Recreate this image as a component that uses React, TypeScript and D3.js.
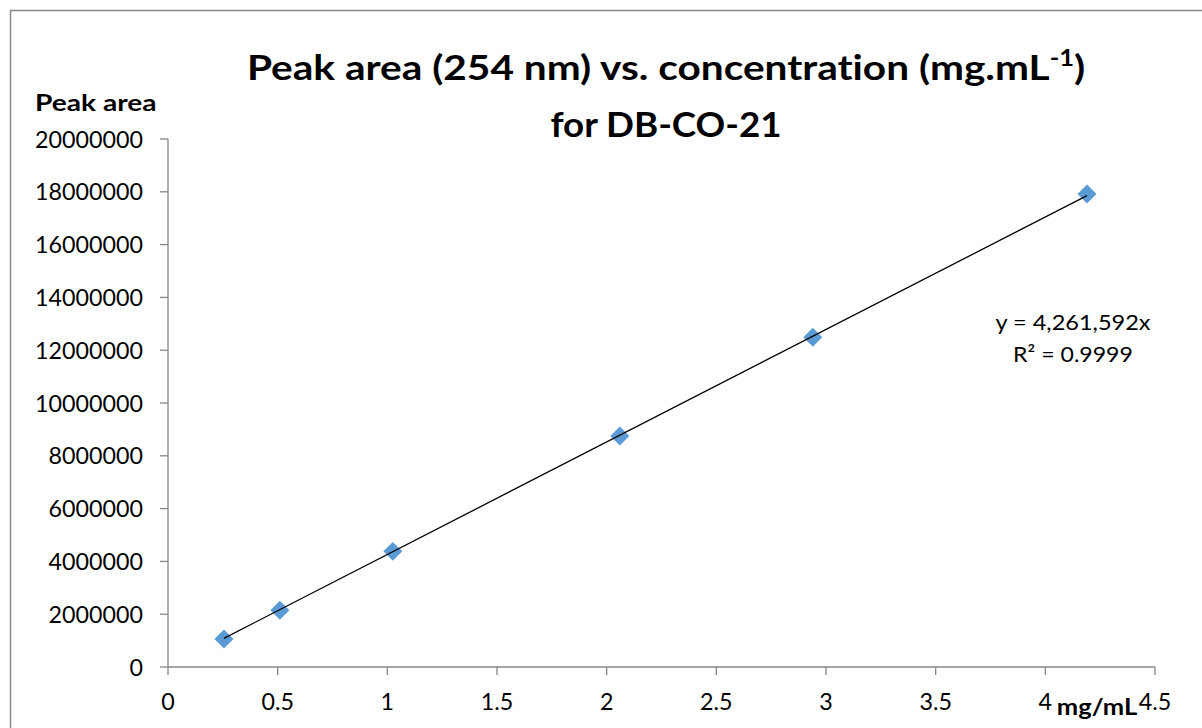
import React from "react";
import * as d3 from "d3";

const concentrations = [0.255, 0.51, 1.025, 2.06, 2.94, 4.19];
const peakAreas = [1060000, 2150000, 4380000, 8750000, 12490000, 17920000];
const slope = 4261592;
const xTicks = [0, 0.5, 1, 1.5, 2, 2.5, 3, 3.5, 4, 4.5];
const yTicks = [0, 2000000, 4000000, 6000000, 8000000, 10000000, 12000000, 14000000, 16000000, 18000000, 20000000];
const titleLine1 = "Peak area (254 nm) vs. concentration (mg.mL";
const titleSup = "-1";
const titleLine2 = "for DB-CO-21";
const yAxisTitle = "Peak area";
const xAxisTitle = "mg/mL";
const equation = "y = 4,261,592x";
const rSquared = "R² = 0.9999";

const W = 1202;
const H = 728;
const FONT = "Lato, 'Liberation Sans', sans-serif";

function SText(props: { x: number; y: number; sx: number; anchor?: string; size: number; bold?: boolean; children: React.ReactNode }) {
  const { x, y, sx, anchor, size, bold, children } = props;
  return (
    <text
      transform={`translate(${x},${y}) scale(${sx},1)`}
      textAnchor={anchor || "start"}
      fontSize={size}
      fontWeight={bold ? "bold" : "normal"}
      fill="#000"
      style={{ fontVariantLigatures: "none" }}
    >
      {children}
    </text>
  );
}

export default function App() {
  const x = d3.scaleLinear().domain([0, 4.5]).range([168, 1155]);
  const y = d3.scaleLinear().domain([0, 20000000]).range([667, 139]);
  const axisColor = "#868686";
  const pts = concentrations.map((c, i) => [c, peakAreas[i]] as [number, number]);
  const xmin = d3.min(concentrations) as number;
  const xmax = d3.max(concentrations) as number;
  const line = d3.line<[number, number]>().x(d => x(d[0])).y(d => y(d[1]));
  const trend: [number, number][] = [[xmin, slope * xmin], [xmax, slope * xmax]];
  const diamond = d3.symbol().type(d3.symbolSquare).size(180)();
  const tickSx = 0.97;

  return (
    <svg width={W} height={H} style={{ position: "absolute", left: 0, top: 0, background: "#fff" }} fontFamily={FONT}>
      <rect x={0} y={0} width={W} height={H} fill="#fff" />
      <rect x={10.5} y={10.5} width={W + 20} height={H + 20} fill="none" stroke="#8a8a8a" strokeWidth={1.5} />
      {/* title */}
      <SText x={666} y={80} sx={1.16} anchor="middle" size={35} bold>
        {titleLine1}
        <tspan fontSize={22} dy={-14}>{titleSup}</tspan>
        <tspan dy={14}>)</tspan>
      </SText>
      <SText x={666} y={137} sx={1.05} anchor="middle" size={35} bold>{titleLine2}</SText>
      {/* y axis */}
      <line x1={168} x2={168} y1={y(20000000)} y2={y(0)} stroke={axisColor} strokeWidth={1.3} />
      {yTicks.map(t => (
        <g key={t}>
          <line x1={160} x2={168} y1={y(t)} y2={y(t)} stroke={axisColor} strokeWidth={1.3} />
          <SText x={143} y={y(t) + 8.5} sx={tickSx} anchor="end" size={24}>{d3.format("d")(t)}</SText>
        </g>
      ))}
      <SText x={35} y={111} sx={1.28} size={22} bold>{yAxisTitle}</SText>
      {/* x axis */}
      <line x1={x(0)} x2={x(4.5)} y1={667} y2={667} stroke={axisColor} strokeWidth={1.3} />
      {xTicks.map(t => (
        <g key={t}>
          <line x1={x(t)} x2={x(t)} y1={667} y2={675} stroke={axisColor} strokeWidth={1.3} />
          <SText x={x(t)} y={710} sx={tickSx} anchor="middle" size={24}>{String(t)}</SText>
        </g>
      ))}
      <SText x={1097} y={715} sx={1.11} anchor="middle" size={23} bold>{xAxisTitle}</SText>
      {/* points */}
      {pts.map((p, i) => (
        <path key={i} d={diamond} transform={`translate(${x(p[0])},${y(p[1])}) rotate(45)`} fill="#5B9BD5" />
      ))}
      {/* trendline */}
      <path d={line(trend) || ""} fill="none" stroke="#000" strokeWidth={1.3} />
      <SText x={1073} y={330} sx={1.07} anchor="middle" size={22}>{equation}</SText>
      <SText x={1073} y={362} sx={1.05} anchor="middle" size={22}>{rSquared}</SText>
    </svg>
  );
}
